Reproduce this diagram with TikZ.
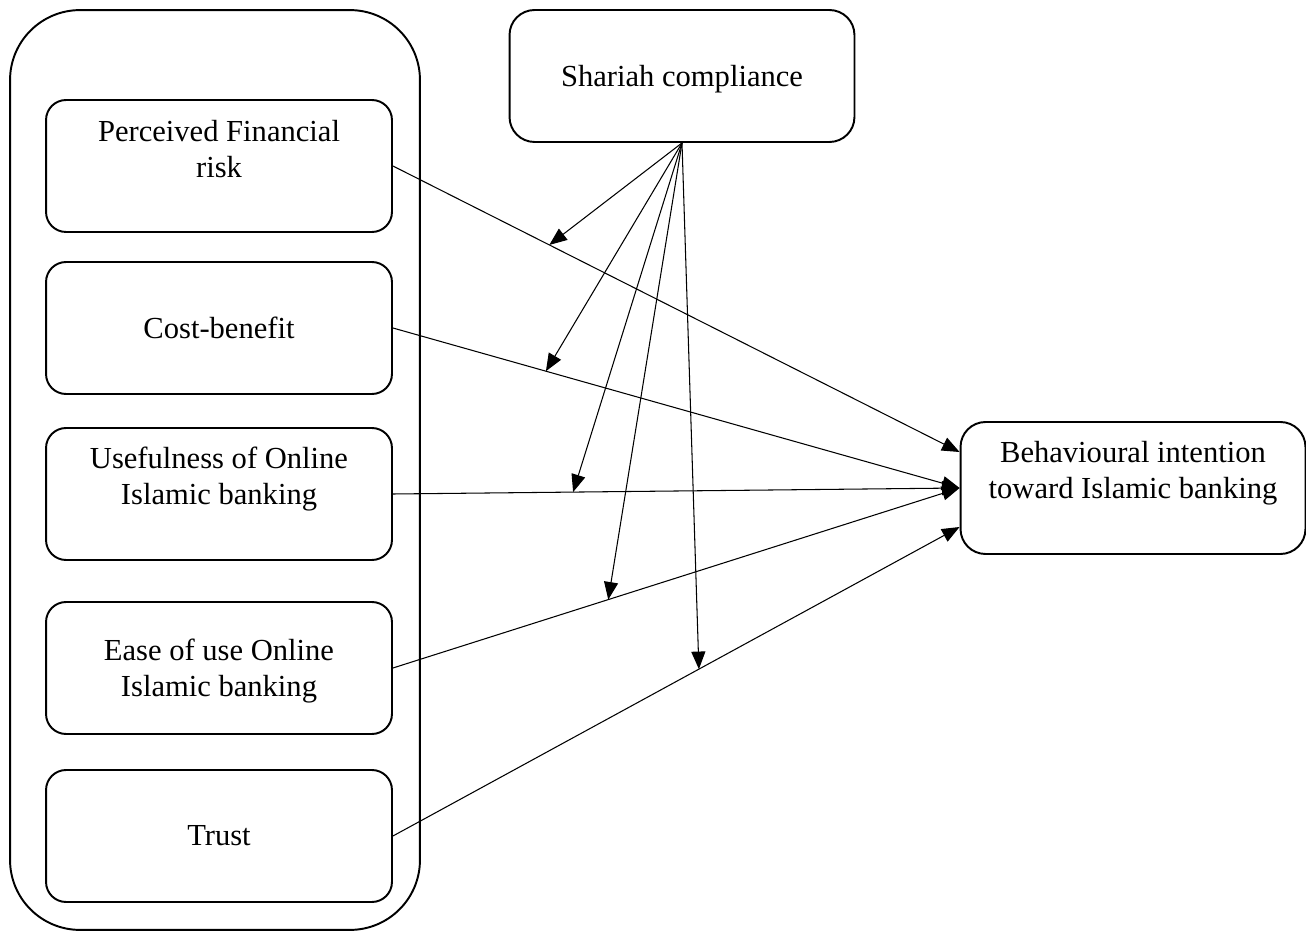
\documentclass[tikz,border=0pt]{standalone}
\usepackage{fontspec}
\setmainfont{Liberation Serif}
\usetikzlibrary{arrows.meta}

\begin{document}
\begin{tikzpicture}[
  x=0.02cm, y=-0.02cm,
  font=\fontsize{17.4}{20.5}\selectfont,
  factor/.style={draw, line width=1.1pt, rounded corners=0.4cm,
    minimum width=6.92cm, minimum height=2.64cm, inner sep=0pt},
  bigbox/.style={draw, line width=1.1pt, rounded corners=0.5cm,
    minimum width=6.9cm, minimum height=2.64cm, inner sep=0pt},
  group/.style={draw, line width=1.1pt, rounded corners=1.4cm,
    minimum width=8.2cm, minimum height=18.4cm},
  txt/.style={align=center, inner sep=0pt},
  path arrow/.style={line width=0.6pt, -{Triangle[length=10pt,width=8pt]}}
]
  \useasboundingbox (0,0) rectangle (1306,932);

  % Group of factors
  \node[group] (grp) at (215,470) {};
  \node[factor, label={[txt, yshift=0.34cm]center:Perceived Financial\\risk}] (risk) at (219,166) {};
  \node[factor, label={[txt]center:Cost-benefit}] (cost) at (219,328) {};
  \node[factor, label={[txt, yshift=0.30cm]center:Usefulness of Online\\Islamic banking}] (use) at (219,494) {};
  \node[factor, label={[txt, yshift=-0.06cm]center:Ease of use Online\\Islamic banking}] (ease) at (219,668) {};
  \node[factor, label={[txt]center:Trust}] (trust) at (219,836) {};

  % Moderator and outcome
  \node[bigbox, label={[txt, yshift=-0.06cm]center:Shariah compliance}] (shariah) at (682,76) {};
  \node[bigbox, label={[txt, yshift=0.30cm]center:Behavioural intention\\toward Islamic banking}] (bi) at (1133,488) {};

  % Direct paths
  \draw[path arrow] (risk.east) -- coordinate[pos=0.276] (m1) ([yshift=0.72cm]bi.west);
  \draw[path arrow] (cost.east) -- coordinate[pos=0.27] (m2) (bi.west);
  \draw[path arrow] (use.east) -- coordinate[pos=0.318] (m3) (bi.west);
  \draw[path arrow] (ease.east) -- coordinate[pos=0.38] (m4) (bi.west);
  \draw[path arrow] (trust.east) -- coordinate[pos=0.54] (m5) ([yshift=-0.78cm]bi.west);

  % Moderating paths
  \foreach \m in {m1,m2,m3,m4,m5}
    \draw[path arrow] (shariah.south) -- (\m);

\end{tikzpicture}
\end{document}
